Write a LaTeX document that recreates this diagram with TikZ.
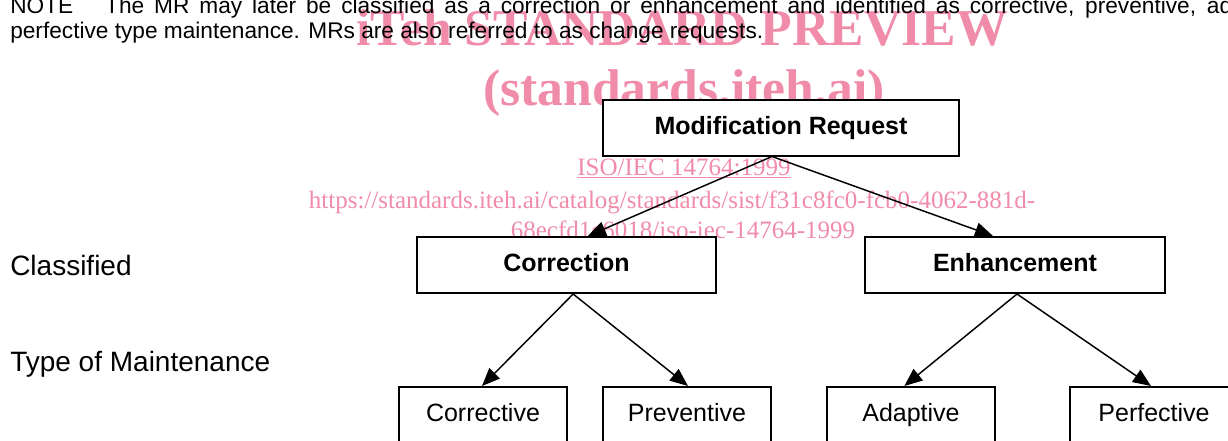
\documentclass[tikz,border=0pt]{standalone}
\usepackage{fontspec}
\setmainfont{Liberation Sans}
\newfontfamily\wmfont{Liberation Serif}
\usetikzlibrary{arrows.meta}
\definecolor{wmpink}{RGB}{240,140,170}
\begin{document}
\begin{tikzpicture}[x=0.75pt,y=-0.75pt,
  box/.style={draw=black,line width=1.5pt,fill=white,inner sep=0pt,
    text height=9.75pt,text depth=0pt,minimum height=42pt,
    font=\fontsize{18.75pt}{22pt}\selectfont},
  bigbox/.style={box,font=\fontsize{18.75pt}{22pt}\selectfont\bfseries},
  smallbox/.style={box,minimum width=126pt},
  arr/.style={line width=1.1pt,-{Triangle[length=13.5pt,width=11pt]}},
  wm/.style={text=wmpink,inner sep=0pt,anchor=base},
  wmbig/.style={wm,font=\wmfont\bfseries\fontsize{38.75pt}{41pt}\selectfont},
  wmsmall/.style={wm,font=\wmfont\fontsize{18.75pt}{22pt}\selectfont},
  lbl/.style={inner sep=0pt,anchor=base west,font=\fontsize{21pt}{25pt}\selectfont},
  notetext/.style={inner sep=0pt,anchor=base west,font=\fontsize{17pt}{20pt}\selectfont}]
\useasboundingbox (0,0) rectangle (1228,440);
% watermark (underneath)
\node[wmbig] (w1) at (682,45) {iTeh STANDARD PREVIEW};
\node[wmbig] (w2) at (684,105) {(standards.iteh.ai)};
\node[wmsmall] (w3) at (684,175) {\underline{ISO/IEC 14764:1999}};
\node[wmsmall] (w4) at (672,208) {https://standards.iteh.ai/catalog/standards/sist/f31c8fc0-fcb0-4062-881d-};
\node[wmsmall] (w5) at (683,238) {68ecfd1c6018/iso-iec-14764-1999};
% note
\node[notetext] (n1) at (10,13.5) {\hbox to 916.5pt{NOTE\hspace{24pt}The MR may later be classified as a correction or enhancement and identified as corrective, preventive, ad}};
\node[notetext] (n2) at (10,38) {perfective type maintenance. MRs are also referred to as change requests.};
% row labels
\node[lbl] (l1) at (10,275) {Classified};
\node[lbl] (l2) at (10,371) {Type of Maintenance};
% boxes
\node[bigbox,minimum width=267pt] (mr) at (781,127.5) {Modification Request};
\node[bigbox,minimum width=224.25pt] (cor) at (566.5,265) {Correction};
\node[bigbox,minimum width=225pt] (enh) at (1015,265) {Enhancement};
\node[smallbox] (c1) at (483,415) {Corrective};
\node[smallbox] (c2) at (687,415) {Preventive};
\node[smallbox] (c3) at (911,415) {Adaptive};
\node[smallbox] (c4) at (1154,415) {Perfective};
% connectors
\draw[arr] ([xshift=-6.75pt]mr.south) -- ([xshift=16pt]cor.north);
\draw[arr] ([xshift=-6.75pt]mr.south) -- ([xshift=-16.5pt]enh.north);
\draw[arr] ([xshift=5pt]cor.south) -- ([xshift=-0.75pt]c1.north);
\draw[arr] ([xshift=5pt]cor.south) -- ([xshift=0.75pt]c2.north);
\draw[arr] ([xshift=1.5pt]enh.south) -- ([xshift=-5pt]c3.north);
\draw[arr] ([xshift=1.5pt]enh.south) -- ([xshift=-2.25pt]c4.north);
\end{tikzpicture}
\end{document}
